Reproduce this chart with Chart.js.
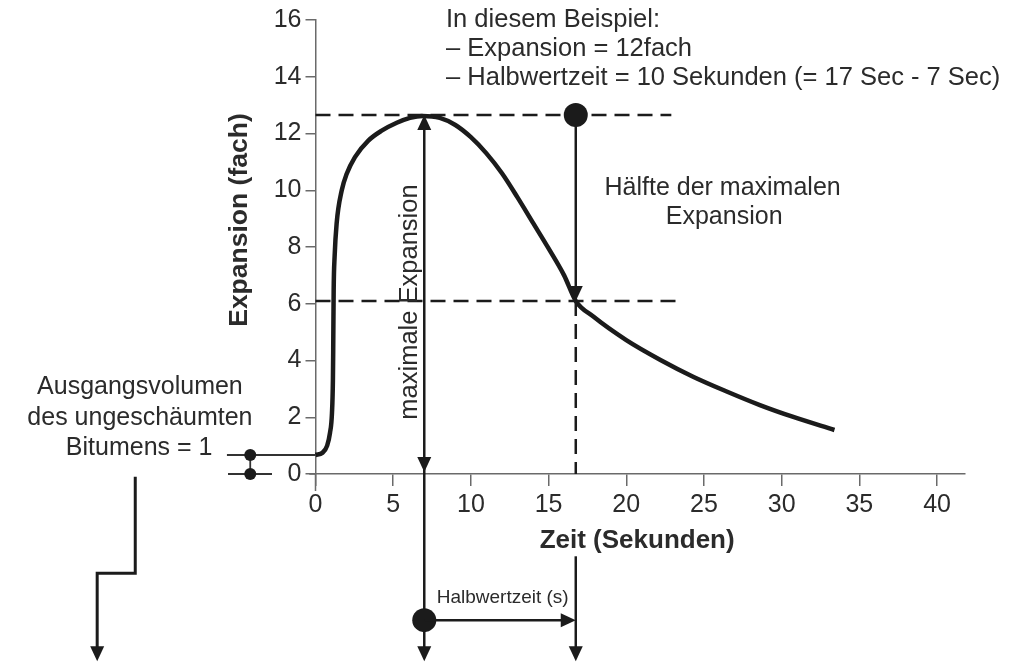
<!DOCTYPE html>
<html>
<head>
<meta charset="utf-8">
<script src="https://cdn.jsdelivr.net/npm/chart.js@4/dist/chart.umd.min.js"></script>
<style>
  html, body { margin: 0; padding: 0; background: #ffffff; }
  canvas { display: block; }
</style>
</head>
<body>
<canvas id="foam" width="1031" height="665"></canvas>
<script>
// Expansion curve of foamed bitumen over time
const timeSec = [0, 0.45, 0.75, 0.93, 1.06, 1.12, 1.14, 1.17, 1.23, 1.36, 1.69, 2.01, 2.54, 3.4, 4.26, 5.23, 6.08, 6.9,
                 8.0, 9.0, 10.0, 11.0, 12.0, 13.0, 14.0, 15.0, 16.0, 16.75, 17.9, 20.0, 22.2, 24.3, 26.5, 28.6, 30.7, 33.4];
const expansion = [0.67, 0.75, 1.0, 1.44, 2.15, 3.3, 4.4, 6.5, 7.66, 8.83, 10.0, 10.58, 11.17, 11.75, 12.1, 12.38, 12.55, 12.62,
                   12.55, 12.3, 11.87, 11.3, 10.6, 9.75, 8.85, 7.95, 7.0, 6.1, 5.54, 4.72, 4.02, 3.43, 2.9, 2.43, 2.02, 1.55];
const xTickValues = [0, 5, 10, 15, 20, 25, 30, 35, 40];
const yTickValues = [0, 2, 4, 6, 8, 10, 12, 14, 16];

// Key readings
const tMax = 7;          // time of maximum expansion (s)
const tHalf = 16.75;     // time at half of the maximum (s)
const eMax = 12.65;      // maximum expansion
const eHalf = 6.1;       // half of the maximum expansion
const eStart = 0.67;     // starting volume level

const INK = '#1b1b1b';
const TEXT = '#2b2b2b';
const AXIS = '#6a6a6a';
const FONT = '"Liberation Sans", Arial, Helvetica, sans-serif';

function arrowHead(ctx, x, y, dir) {
  const len = 15, half = 7;
  ctx.beginPath();
  if (dir === 'down') { ctx.moveTo(x, y); ctx.lineTo(x - half, y - len); ctx.lineTo(x + half, y - len); }
  if (dir === 'up') { ctx.moveTo(x, y); ctx.lineTo(x - half, y + len); ctx.lineTo(x + half, y + len); }
  if (dir === 'right') { ctx.moveTo(x, y); ctx.lineTo(x - len, y - half); ctx.lineTo(x - len, y + half); }
  ctx.closePath();
  ctx.fill();
}

function dot(ctx, x, y, r) {
  ctx.beginPath();
  ctx.arc(x, y, r, 0, Math.PI * 2);
  ctx.fill();
}

function line(ctx, pts) {
  ctx.beginPath();
  ctx.moveTo(pts[0][0], pts[0][1]);
  for (let i = 1; i < pts.length; i++) ctx.lineTo(pts[i][0], pts[i][1]);
  ctx.stroke();
}

const annotations = {
  id: 'annotations',
  afterDraw(chart) {
    const ctx = chart.ctx;
    const X = v => chart.scales.x.getPixelForValue(v);
    const Y = v => chart.scales.y.getPixelForValue(v);
    ctx.save();
    ctx.lineCap = 'butt';

    // axis extensions (y axis passes below the time axis, time axis starts left of y axis)
    ctx.strokeStyle = AXIS;
    ctx.lineWidth = 1.5;
    line(ctx, [[X(0), Y(0)], [X(0), Y(-0.6)]]);
    line(ctx, [[X(-0.4), Y(0)], [X(0), Y(0)]]);

    // dashed reference lines
    ctx.strokeStyle = INK;
    ctx.lineWidth = 2.5;
    ctx.setLineDash([15, 8]);
    line(ctx, [[X(0), Y(eMax)], [X(22.9), Y(eMax)]]);
    line(ctx, [[X(0), Y(eHalf)], [X(23.3), Y(eHalf)]]);
    line(ctx, [[X(tHalf), Y(eHalf)], [X(tHalf), Y(0)]]);
    ctx.setLineDash([]);

    ctx.fillStyle = INK;
    ctx.lineWidth = 2.5;

    // maximum expansion arrow and its continuation below the axis
    line(ctx, [[X(tMax), Y(eMax) + 10], [X(tMax), Y(-6.6) - 10]]);
    arrowHead(ctx, X(tMax), Y(eMax), 'up');
    arrowHead(ctx, X(tMax), Y(0) - 2, 'down');
    arrowHead(ctx, X(tMax), Y(-6.6), 'down');
    dot(ctx, X(tMax), Y(-5.15), 12);

    // half of maximum arrow
    line(ctx, [[X(tHalf), Y(eMax)], [X(tHalf), Y(eHalf) - 10]]);
    arrowHead(ctx, X(tHalf), Y(eHalf), 'down');
    dot(ctx, X(tHalf), Y(eMax), 12);

    // half-life span arrow
    line(ctx, [[X(tHalf), Y(-2.9)], [X(tHalf), Y(-6.6) - 10]]);
    arrowHead(ctx, X(tHalf), Y(-6.6), 'down');
    line(ctx, [[X(tMax), Y(-5.15)], [X(tHalf) - 10, Y(-5.15)]]);
    arrowHead(ctx, X(tHalf), Y(-5.15), 'right');

    // starting volume marker
    ctx.lineWidth = 1.8;
    ctx.strokeStyle = '#333333';
    line(ctx, [[X(-5.7), Y(eStart)], [X(0), Y(eStart)]]);
    line(ctx, [[X(-5.63), Y(0)], [X(-2.8), Y(0)]]);
    line(ctx, [[X(-4.2), Y(eStart)], [X(-4.2), Y(0)]]);
    dot(ctx, X(-4.2), Y(eStart), 6);
    dot(ctx, X(-4.2), Y(0), 6);

    // stepped arrow below the starting volume label
    ctx.lineWidth = 3;
    ctx.strokeStyle = INK;
    ctx.lineJoin = 'miter';
    line(ctx, [[X(-11.6), Y(-0.1)], [X(-11.6), Y(-3.5)], [X(-14.05), Y(-3.5)], [X(-14.05), Y(-6.6) - 10]]);
    arrowHead(ctx, X(-14.05), Y(-6.6), 'down');

    // texts
    ctx.fillStyle = TEXT;
    ctx.textBaseline = 'middle';
    ctx.font = '25.5px ' + FONT;
    ctx.textAlign = 'left';
    ctx.fillText('In diesem Beispiel:', X(8.4), Y(16.0));
    ctx.fillText('\u2013 Expansion = 12fach', X(8.4), Y(14.98));
    ctx.fillText('\u2013 Halbwertzeit = 10 Sekunden (= 17 Sec - 7 Sec)', X(8.4), Y(13.96));

    ctx.font = '25px ' + FONT;
    ctx.textAlign = 'center';
    ctx.fillText('H\u00e4lfte der maximalen', X(26.2), Y(10.08));
    ctx.fillText('Expansion', X(26.3), Y(9.06));

    ctx.fillText('Ausgangsvolumen', X(-11.3), Y(3.07));
    ctx.fillText('des ungesch\u00e4umten', X(-11.3), Y(1.97));
    ctx.fillText('Bitumens = 1', X(-11.35), Y(0.92));

    ctx.save();
    ctx.font = '25.5px ' + FONT;
    ctx.translate(X(6.08), Y(6.06));
    ctx.rotate(-Math.PI / 2);
    ctx.fillText('maximale Expansion', 0, 0);
    ctx.restore();

    ctx.font = 'bold 26px ' + FONT;
    ctx.fillText('Zeit (Sekunden)', X(20.7), Y(-2.36));
    ctx.save();
    ctx.font = 'bold 26.5px ' + FONT;
    ctx.translate(X(-4.86), Y(8.95));
    ctx.rotate(-Math.PI / 2);
    ctx.fillText('Expansion (fach)', 0, 0);
    ctx.restore();

    ctx.font = '19px ' + FONT;
    ctx.textAlign = 'left';
    ctx.fillText('Halbwertzeit (s)', X(7.8), Y(-4.37));

    ctx.restore();
  }
};

new Chart(document.getElementById('foam'), {
  type: 'scatter',
  data: {
    datasets: [{
      data: timeSec.map((t, i) => ({ x: t, y: expansion[i] })),
      showLine: true,
      borderColor: INK,
      borderWidth: 4.5,
      pointRadius: 0,
      cubicInterpolationMode: 'monotone',
      fill: false,
      clip: false
    }]
  },
  options: {
    responsive: false,
    devicePixelRatio: 1,
    animation: false,
    layout: { padding: { left: 270, right: 66, top: 20, bottom: 141 } },
    plugins: { legend: { display: false }, tooltip: { enabled: false } },
    scales: {
      x: {
        type: 'linear',
        min: 0,
        max: 41.8,
        afterBuildTicks: axis => { axis.ticks = xTickValues.map(v => ({ value: v })); },
        afterFit: axis => { axis.height = 50; },
        border: { display: true, color: AXIS, width: 1.5 },
        grid: { drawOnChartArea: false, drawTicks: true, tickLength: 12, color: AXIS, lineWidth: 1.5 },
        ticks: { color: TEXT, padding: 4, font: { family: FONT, size: 25 }, maxRotation: 0 }
      },
      y: {
        type: 'linear',
        min: 0,
        max: 16,
        afterBuildTicks: axis => { axis.ticks = yTickValues.map(v => ({ value: v })); },
        afterFit: axis => { axis.width = 45.5; },
        border: { display: true, color: AXIS, width: 1.5 },
        grid: { drawOnChartArea: false, drawTicks: true, tickLength: 10, color: AXIS, lineWidth: 1.5 },
        ticks: { color: TEXT, padding: 4, font: { family: FONT, size: 25 } }
      }
    }
  },
  plugins: [annotations]
});
</script>
</body>
</html>
